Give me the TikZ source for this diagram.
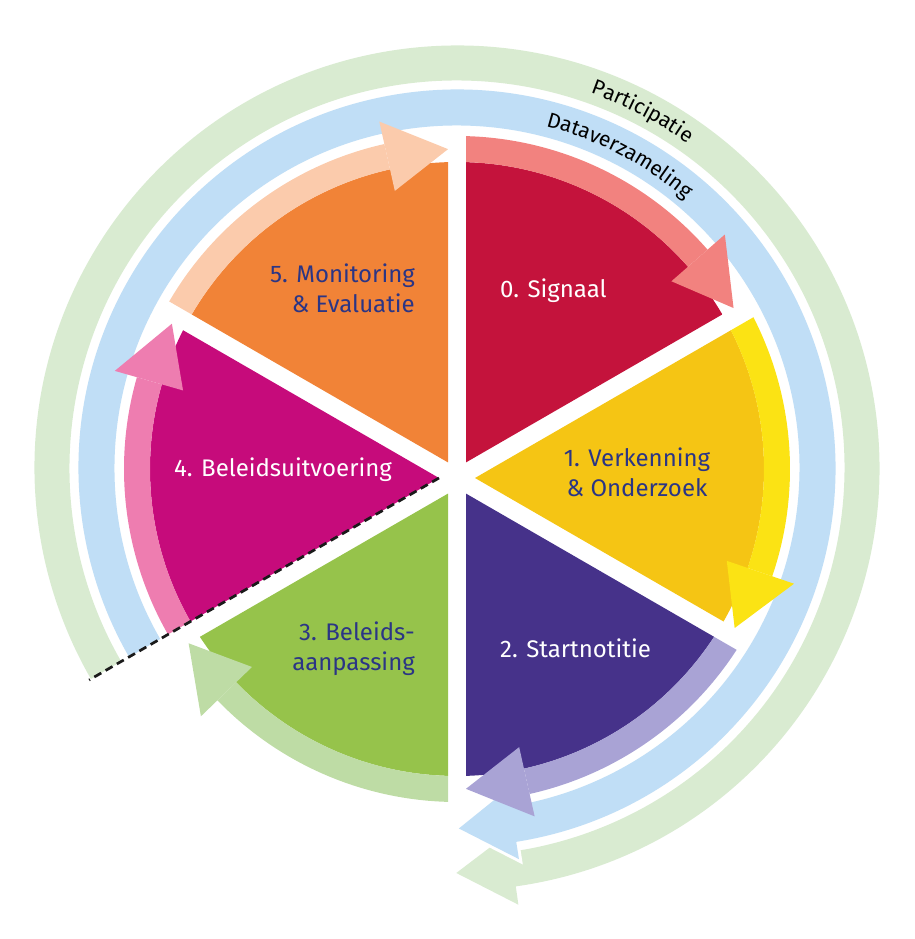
\documentclass[tikz,border=0pt]{standalone}
\usepackage{fontspec}
\setmainfont{Fira Sans}
\usetikzlibrary{calc,decorations.text}
\definecolor{signred}{HTML}{C4133C}
\definecolor{signrose}{HTML}{F2827F}
\definecolor{verkyellow}{HTML}{F5C514}
\definecolor{verkbright}{HTML}{FBE314}
\definecolor{startpurple}{HTML}{46328A}
\definecolor{startlavender}{HTML}{A9A3D5}
\definecolor{aanpasgreen}{HTML}{96C34B}
\definecolor{aanpaslight}{HTML}{BEDCA5}
\definecolor{uitvoermagenta}{HTML}{C60B7B}
\definecolor{uitvoerpink}{HTML}{EE7DB0}
\definecolor{monitororange}{HTML}{F18337}
\definecolor{monitorpeach}{HTML}{FBCBAC}
\definecolor{ringblue}{HTML}{C0DEF6}
\definecolor{ringgreen}{HTML}{D9EBD1}
\definecolor{labelnavy}{HTML}{2B3585}
\definecolor{dashblack}{HTML}{1A1A1A}

\begin{document}
\begin{tikzpicture}[
  x=1pt, y=1pt,
  phase/.style={font=\fontsize{24}{30}\selectfont, inner sep=0pt},
  phase-dark/.style={phase, text=labelnavy},
  phase-light/.style={phase, text=white},
  ring-label/.style={decorate, decoration={text along path, text align=center,
    text={|\fontsize{21}{21}\selectfont|#1}}},
  gapline/.style={draw=dashblack, line width=2.7pt, dash pattern=on 8pt off 5pt},
]
  \useasboundingbox (-457,-470) rectangle (457,469);
  \coordinate (pie-centre) at (0,0);
  \coordinate (gap-centre) at (0,-9);
  \coordinate (ring-centre) at (0,1);
  \coordinate (cut-tip) at ($(gap-centre)+(180:18)$);
  \coordinate (cut-end) at ($(cut-tip)+(210:404)$);

  % outer rings, opened along the dashed cut
  \begin{scope}
    \clip (cut-tip) -- ($(cut-tip)+(265:800)$) -- ($(cut-tip)+(320:800)$)
      -- ($(cut-tip)+(20:800)$) -- ($(cut-tip)+(80:800)$)
      -- ($(cut-tip)+(140:800)$) -- ($(cut-tip)+(210:800)$) -- cycle;
    \begin{scope}[shift={(ring-centre)}]
      \path[fill=ringgreen] (215:387.5) arc[start angle=215, end angle=-82, radius=387.5]
        -- (-82:369) -- (-90.1:405) -- (-82:441) -- (-82:422.5)
        arc[start angle=-82, end angle=215, radius=422.5] -- cycle;
      \path[fill=ringblue, preaction={draw=white, line width=6pt}]
        (215:342.5) arc[start angle=215, end angle=-81, radius=342.5]
        -- (-81:325) -- (-89.7:360.5) -- (-81:396) -- (-81:378.5)
        arc[start angle=-81, end angle=215, radius=378.5] -- cycle;
    \end{scope}
  \end{scope}
  \begin{scope}[shift={(ring-centre)}]
    \path[ring-label=Participatie] (82.5:398) arc[start angle=82.5, end angle=42.5, radius=398];
    \path[ring-label=Dataverzameling] (82.5:353) arc[start angle=82.5, end angle=42.5, radius=353];
  \end{scope}

  % six phases, each with its own arrow
  \foreach \phasestart/\phasemid/\phaseend/\arrowtip/\dark/\light in {
      90/60/30/30.2/signred/signrose,
      30/0/-30/-29.8/verkyellow/verkbright,
      -30/-60/-90/-88.4/startpurple/startlavender,
      -90/-120/-150/-147/aanpasgreen/aanpaslight,
      -150/180/-210/-207/uitvoermagenta/uitvoerpink,
      150/120/90/91.6/monitororange/monitorpeach}{
    \begin{scope}
      \coordinate (sector-tip) at ($(gap-centre)+(\phasemid:18)$);
      \clip (sector-tip) -- ($(sector-tip)+(\phasestart:700)$)
        -- ($(sector-tip)+(\phasemid:700)$) -- ($(sector-tip)+(\phaseend:700)$) -- cycle;
      \fill[\dark] (pie-centre) circle[radius=307];
      \fill[\light] (\phasestart+5:307)
        arc[start angle=\phasestart+5, end angle=\arrowtip+11, radius=307]
        -- (\arrowtip+11:333)
        arc[start angle=\arrowtip+11, end angle=\phasestart+5, radius=333] -- cycle;
      \fill[\light] (\arrowtip+11:285) -- (\arrowtip:320) -- (\arrowtip+11:356) -- cycle;
    \end{scope}
  }

  \draw[gapline] (cut-tip) -- (cut-end);

  \node[phase-light, anchor=west] (signaal) at (43,178) {0. Signaal};
  \node[phase-dark, align=center] (verkenning) at (180,-3) {1. Verkenning\\\& Onderzoek};
  \node[phase-light, anchor=west] (startnotitie) at (43,-179) {2. Startnotitie};
  \node[phase-dark, align=right, anchor=east] (beleidsaanpassing) at (-42,-180)
    {3. Beleids-\\aanpassing};
  \node[phase-light] (beleidsuitvoering) at (-174,-1) {4. Beleidsuitvoering};
  \node[phase-dark, align=right, anchor=east] (monitoring) at (-42,181)
    {5. Monitoring\\\& Evaluatie};
\end{tikzpicture}
\end{document}
